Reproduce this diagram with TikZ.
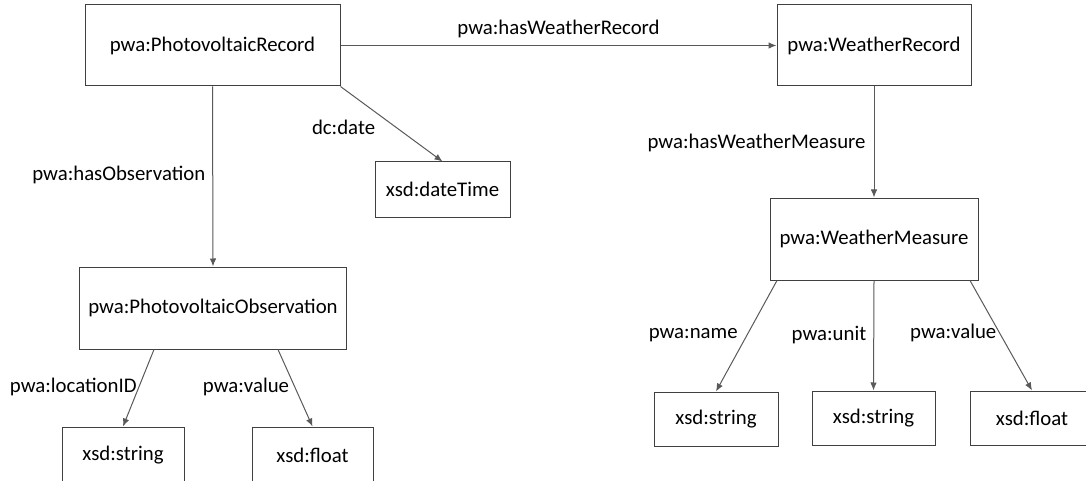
\documentclass[tikz,border=0pt]{standalone}
\usepackage{fontspec}
\setmainfont{Carlito}
\usetikzlibrary{arrows.meta}

\begin{document}
\begin{tikzpicture}
[x=1pt, y=-1pt, font=\fontsize{20.8}{25}\selectfont,
 every class/.style = {draw=boxcolor, line width=1pt, inner sep=0pt},
 class/.style = {every class, minimum width=#1},
 link/.style = {draw=linkcolor, line width=1pt, -{Latex[length=8pt,width=6.5pt]}},
 prop/.style = {inner sep=2pt, text=black}]

% Define colors
\colorlet{boxcolor}{black!75}
\colorlet{linkcolor}{black!65}

\useasboundingbox (0,0) rectangle (1086,481);

%%%%%%%%%%% PHOTOVOLTAIC SIDE
\node[class=255pt, minimum height=81pt] (pvrec) at (212.5,45.5) {pwa:PhotovoltaicRecord};
\node[class=135pt, minimum height=55pt] (datetime) at (442.5,189.5) {xsd:dateTime};
\node[class=267pt, minimum height=82pt] (pvobs) at (213,308) {pwa:PhotovoltaicObservation};
\node[class=122pt, minimum height=56pt] (locstr) at (123,455) {xsd:string};
\node[class=121pt, minimum height=56pt] (obsfloat) at (312.5,455) {xsd:float};

%%%%%%%%%%% WEATHER SIDE
\node[class=194pt, minimum height=81pt] (wrec) at (874,45.5) {pwa:WeatherRecord};
\node[class=208pt, minimum height=82pt] (wmeas) at (874,239) {pwa:WeatherMeasure};
\node[class=124pt, minimum height=54pt] (namestr) at (716,419) {xsd:string};
\node[class=123pt, minimum height=54pt] (unitstr) at (873.5,418) {xsd:string};
\node[class=124pt, minimum height=54pt] (valfloat) at (1032,418) {xsd:float};

%%%%%%%%%%% PROPERTIES
\draw[link] (pvrec.east) -- node[prop, above=5pt] {pwa:hasWeatherRecord} (wrec.west);
\draw[link] (pvrec.south east) -- node[prop, pos=0.55, left=19pt] {dc:date} (datetime.north);
\draw[link] (pvrec.south) -- node[prop, pos=0.49, left=5pt] {pwa:hasObservation} (pvobs.north);
\draw[link] ([xshift=-59pt]pvobs.south) -- node[prop, pos=0.48, left=0pt] {pwa:locationID} (locstr.north);
\draw[link] ([xshift=65pt]pvobs.south) -- node[prop, pos=0.48, left=3pt] {pwa:value} (obsfloat.north);

\draw[link] (wrec.south) -- node[prop, pos=0.51, left=6pt] {pwa:hasWeatherMeasure} (wmeas.north);
\draw[link] ([xshift=-97pt]wmeas.south) -- node[prop, pos=0.49, left=7pt] {pwa:name} (namestr.north);
\draw[link] (wmeas.south) -- node[prop, pos=0.5, left=5pt] {pwa:unit} (unitstr.north);
\draw[link] ([xshift=96pt]wmeas.south) -- node[prop, pos=0.48, left=1pt] {pwa:value} (valfloat.north);

\end{tikzpicture}
\end{document}
